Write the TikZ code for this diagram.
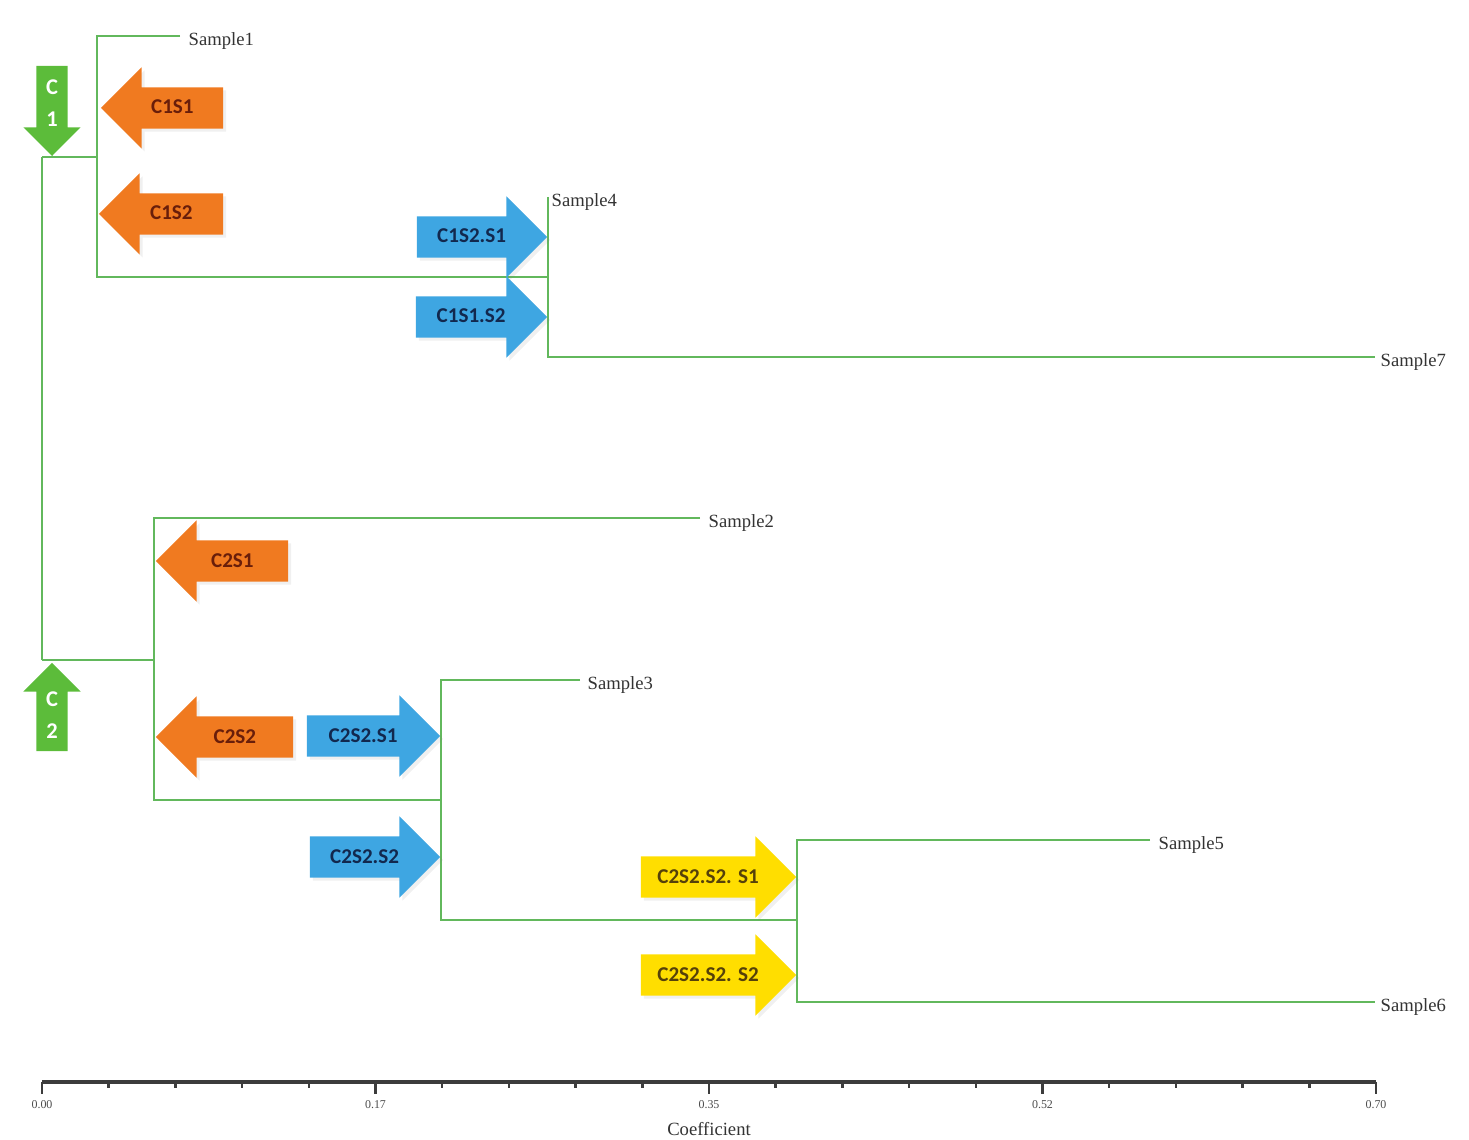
\documentclass[tikz,border=0pt]{standalone}
\usepackage{fontspec}
\setmainfont{Liberation Serif}
\newfontfamily\calfont{Carlito}
\usetikzlibrary{shapes.arrows, positioning, shadows}

\definecolor{treegreen}{RGB}{98,184,92}
\definecolor{clustergreen}{RGB}{92,188,58}
\definecolor{splitorange}{RGB}{240,122,32}
\definecolor{orangetext}{RGB}{105,30,10}
\definecolor{splitblue}{RGB}{62,166,226}
\definecolor{bluetext}{RGB}{18,40,78}
\definecolor{splityellow}{RGB}{255,222,0}
\definecolor{yellowtext}{RGB}{85,65,10}
\definecolor{axisgray}{RGB}{60,60,60}

\begin{document}
\begin{tikzpicture}[x=0.01cm, y=-0.01cm,
  branch/.style={draw=treegreen, line width=0.75pt},
  leaf/.style={font=\fontsize{5.3}{6}\selectfont, text=black!80, inner sep=0pt, yshift=-0.05cm},
  tag/.style={single arrow, single arrow head extend=0.2cm, anchor=tip, inner xsep=0.8mm, inner ysep=1mm,
    text height=1.6mm, text depth=0.4mm, font=\fontsize{6.0}{7}\selectfont\calfont\bfseries,
    drop shadow={opacity=0.12, shadow xshift=0.3mm, shadow yshift=-0.3mm}},
  splitleft/.style={tag, shape border rotate=180, fill=splitorange, text=orangetext},
  splitright/.style={tag, fill=splitblue, text=bluetext},
  subsplit/.style={tag, fill=splityellow, text=yellowtext},
  clusterarrow/.style={single arrow, single arrow head extend=0.13cm, anchor=tip, fill=clustergreen, text=white,
    align=center, text width=1.3mm, inner xsep=0.85mm, inner ysep=0.5mm, font=\fontsize{6.4}{9}\selectfont\calfont\bfseries},
  axisline/.style={draw=axisgray, line width=0.9pt},
  ticklabel/.style={font=\fontsize{3.4}{4}\selectfont, text=black!70, inner sep=0pt}]

\useasboundingbox (0,0) rectangle (1469,1140);

% junctions and leaf ends
\coordinate (r1) at (42,157);
\coordinate (r2) at (42,660);
\coordinate (a) at (97,157);
\coordinate (b) at (548,277);
\coordinate (c) at (154,660);
\coordinate (d) at (441,800);
\coordinate (e) at (797,920);
\coordinate (l1) at (180,36);
\coordinate (l4) at (548,197);
\coordinate (l7) at (1375,357);
\coordinate (l2) at (700,518);
\coordinate (l3) at (580,680);
\coordinate (l5) at (1150,840);
\coordinate (l6) at (1375,1002);

% tree
\draw[branch] (r1) -- (r2);
\draw[branch] (r1) -- (a);
\draw[branch] (l1) -| (a) |- (b);
\draw[branch] (l4) -- (b) |- (l7);
\draw[branch] (r2) -- (c);
\draw[branch] (l2) -| (c) |- (d);
\draw[branch] (l3) -| (d) |- (e);
\draw[branch] (l5) -| (e) |- (l6);

\node[leaf, right=0.08cm of l1] (s1) {Sample1};
\node[leaf, right=0.03cm of l4] (s4) {Sample4};
\node[leaf, right=0.05cm of l7] (s7) {Sample7};
\node[leaf, right=0.08cm of l2] (s2) {Sample2};
\node[leaf, right=0.07cm of l3] (s3) {Sample3};
\node[leaf, right=0.08cm of l5] (s5) {Sample5};
\node[leaf, right=0.05cm of l6] (s6) {Sample6};

% cluster arrows
\node[clusterarrow, shape border rotate=270, minimum height=0.9cm] (cl1) at (52,157) {C\\1};
\node[clusterarrow, shape border rotate=90, minimum height=0.88cm] (cl2) at (52,662) {C\\2};

% sub-cluster arrows
\node[splitleft, minimum height=1.22cm] (c1s1) at (100,108) {C1S1};
\node[splitleft, minimum height=1.24cm] (c1s2) at (98,214) {C1S2};
\node[splitleft, minimum height=1.32cm] (c2s1) at (155,561) {C2S1};
\node[splitleft, minimum height=1.37cm] (c2s2) at (155,737) {C2S2};
\node[splitright, minimum height=1.30cm] (c1s2s1) at (548,237) {C1S2.S1};
\node[splitright, minimum height=1.31cm] (c1s1s2) at (548,317) {C1S1.S2};
\node[splitright, minimum height=1.33cm] (c2s2s1) at (441,736) {C2S2.S1};
\node[splitright, minimum height=1.30cm] (c2s2s2) at (441,857) {C2S2.S2};
\node[subsplit, minimum height=1.55cm] (c2s2s2s1) at (797,877) {C2S2.S2. S1};
\node[subsplit, minimum height=1.55cm] (c2s2s2s2) at (797,975) {C2S2.S2. S2};

% axis
\coordinate (ax0) at (42,1082);
\coordinate (ax1) at (1376,1082);
\draw[axisline] (ax0) -- (ax1);
\foreach \i in {0,...,20}
  \draw[axisline, line width=0.7pt] ({42+\i*66.7},1082) -- ++(0,6);
\foreach \i/\v in {0/0.00, 5/0.17, 10/0.35, 15/0.52, 20/0.70} {
  \draw[axisline, line width=0.7pt] ({42+\i*66.7},1082) -- ++(0,12);
  \node[ticklabel] (t\i) at ({42+\i*66.7},1105) {\v};
}
\node[font=\fontsize{5.3}{6}\selectfont, text=black!80, inner sep=0pt, below=0.12cm of t10] (coef) {Coefficient};

\end{tikzpicture}
\end{document}
